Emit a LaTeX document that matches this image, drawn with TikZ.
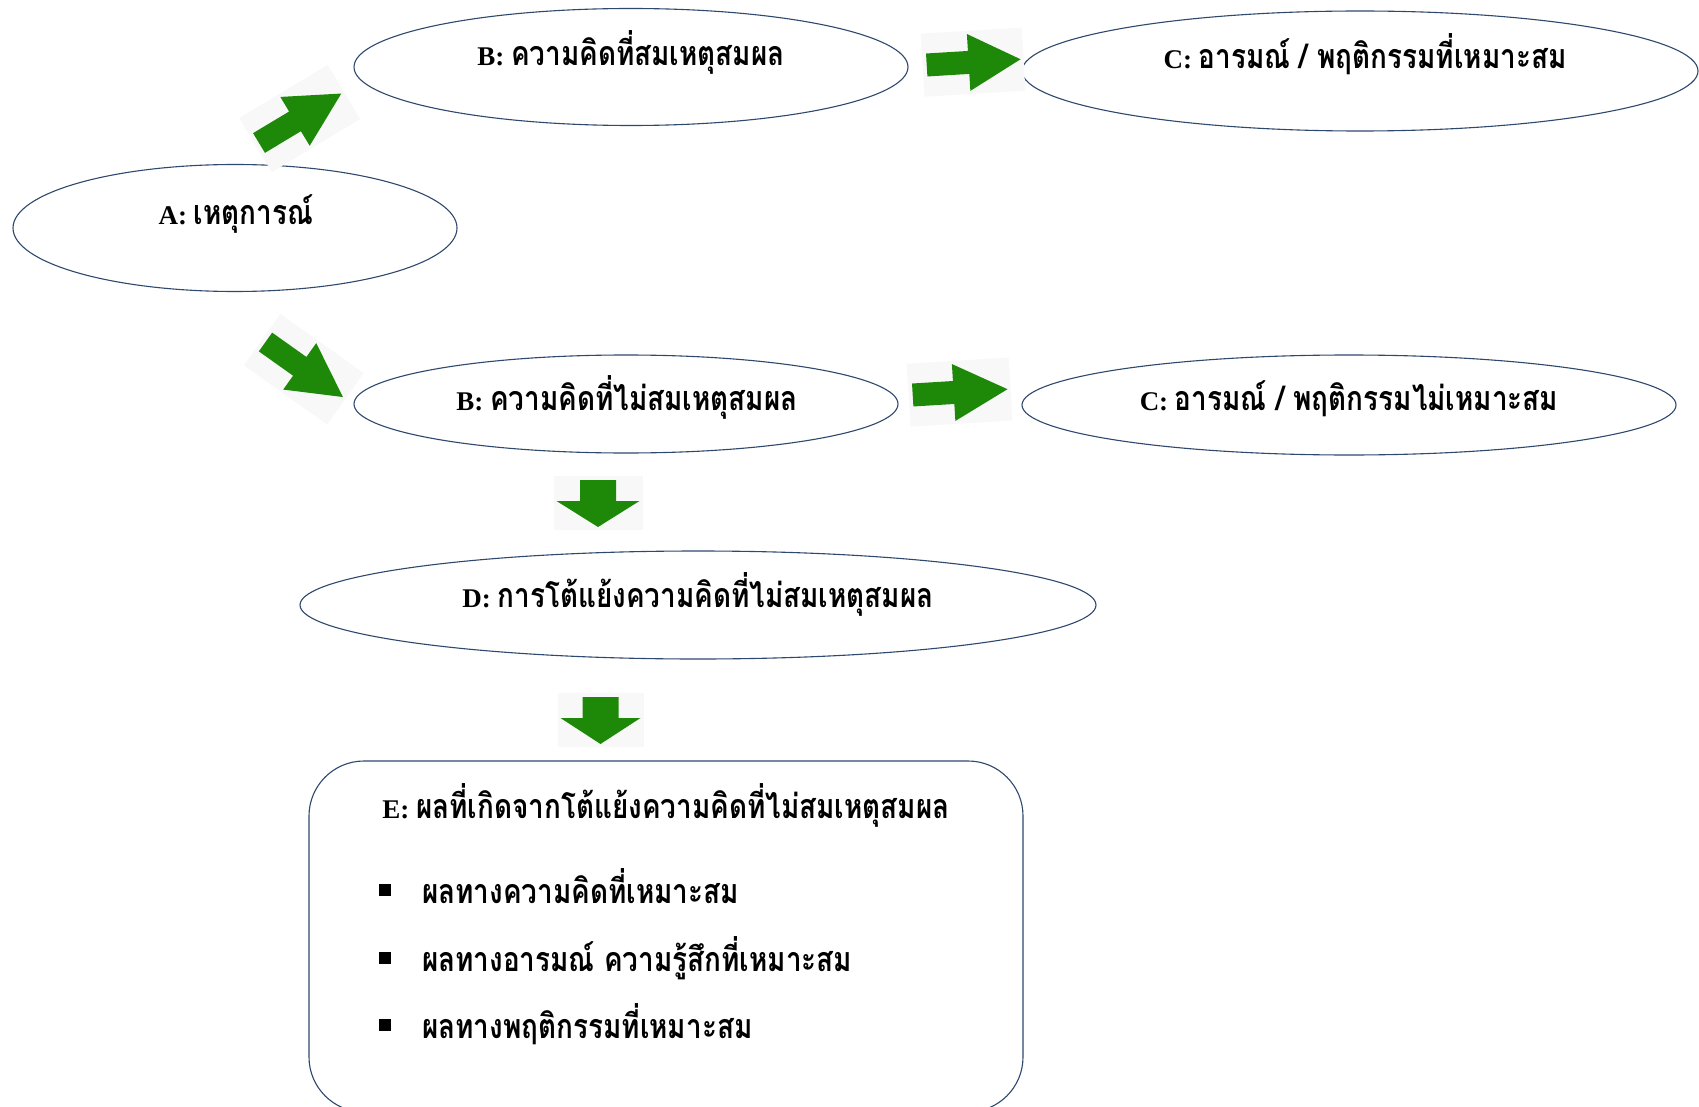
\documentclass[tikz,border=0pt]{standalone}
\usepackage{fontspec}
\setmainfont{Liberation Serif}
\newfontfamily\thaifont[Script=Thai, FakeStretch=0.82]{Loma}
\usetikzlibrary{shapes.geometric}

\definecolor{edgeblue}{RGB}{47,72,110}
\definecolor{agreen}{RGB}{30,137,8}
\definecolor{abg}{RGB}{248,248,248}

\newcommand{\lab}[2]{\fontsize{27}{32}\selectfont\bfseries #1 {\thaifont\fontsize{34}{40}\selectfont #2}}
\newcommand{\thl}[1]{\bfseries\thaifont\fontsize{34}{40}\selectfont #1}

% #1 tail coordinate, #2 angle, #3 length, #4 shaft width, #5 head width, #6 head length
\newcommand{\blkarrow}[6]{%
\begin{scope}[shift={(#1)}, rotate=#2]
\fill[abg] (-4,-#5/2-3) rectangle (#3+3,#5/2+3);
\fill[agreen] (0,-#4/2) -- (#3-#6,-#4/2) -- (#3-#6,-#5/2) -- (#3,0) -- (#3-#6,#5/2) -- (#3-#6,#4/2) -- (0,#4/2) -- cycle;
\end{scope}}

\begin{document}
\begin{tikzpicture}[x=1pt,y=-1pt,
  ell/.style={ellipse, draw=edgeblue, line width=1.1pt, inner sep=0pt, fill=white},
  txt/.style={anchor=base, inner sep=0pt},
  btxt/.style={anchor=base west, inner sep=0pt},
  bsq/.style={fill=black, minimum size=12pt, inner sep=0pt}]
\clip (0,0) rectangle (1699,1107);
\fill[white] (0,0) rectangle (1699,1107);

% ellipses
\node[ell, minimum width=444pt, minimum height=127pt] (A) at (235,228) {};
\node[ell, minimum width=554pt, minimum height=117pt] (B1) at (631,67) {};
\node[ell, minimum width=676pt, minimum height=120pt] (C1) at (1360,71) {};
\node[ell, minimum width=544pt, minimum height=98pt] (B2) at (626,404) {};
\node[ell, minimum width=654pt, minimum height=100pt] (C2) at (1349,405) {};
\node[ell, minimum width=796pt, minimum height=108pt] (D) at (698,605) {};
\draw[edgeblue, line width=1.1pt, rounded corners=55pt] (309,761) rectangle (1023,1112);
\coordinate (E) at (666,935);

% labels
\node[txt] (At) at (236,225) {\lab{A:}{เหตุการณ์}};
\node[txt] (B1t) at (631,66) {\lab{B:}{ความคิดที่สมเหตุสมผล}};
\node[txt] (C1t) at (1365,69) {\lab{C:}{อารมณ์ / พฤติกรรมที่เหมาะสม}};
\node[txt] (B2t) at (627,410) {\lab{B:}{ความคิดที่ไม่สมเหตุสมผล}};
\node[txt] (C2t) at (1349,410) {\lab{C:}{อารมณ์ / พฤติกรรมไม่เหมาะสม}};
\node[txt] (Dt) at (698,607) {\lab{D:}{การโต้แย้งความคิดที่ไม่สมเหตุสมผล}};
\node[txt] (Et) at (666,818) {\lab{E:}{ผลที่เกิดจากโต้แย้งความคิดที่ไม่สมเหตุสมผล}};

\node[bsq] (s1) at (385,890) {};
\node[bsq] (s2) at (385,958) {};
\node[bsq] (s3) at (385,1025) {};
\node[btxt] (e1) at (422,903) {\thl{ผลทางความคิดที่เหมาะสม}};
\node[btxt] (e2) at (422,971) {\thl{ผลทางอารมณ์ ความรู้สึกที่เหมาะสม}};
\node[btxt] (e3) at (422,1038) {\thl{ผลทางพฤติกรรมที่เหมาะสม}};

% block arrows
\coordinate (ar1) at (259,143);
\coordinate (ar2) at (265.5,342);
\coordinate (ar3) at (926.7,65);
\coordinate (ar4) at (912.7,395);
\coordinate (ar5) at (598,480);
\coordinate (ar6) at (600.5,697);
\blkarrow{ar1}{31}{96}{23}{57}{54}
\blkarrow{ar2}{-35.4}{95}{23}{57}{53}
\blkarrow{ar3}{3.5}{94}{23}{57}{52}
\blkarrow{ar4}{3.5}{95}{23}{57}{54}
\blkarrow{ar5}{-90}{47}{36}{83}{26}
\blkarrow{ar6}{-90}{47}{36}{80}{26}
\end{tikzpicture}
\end{document}
